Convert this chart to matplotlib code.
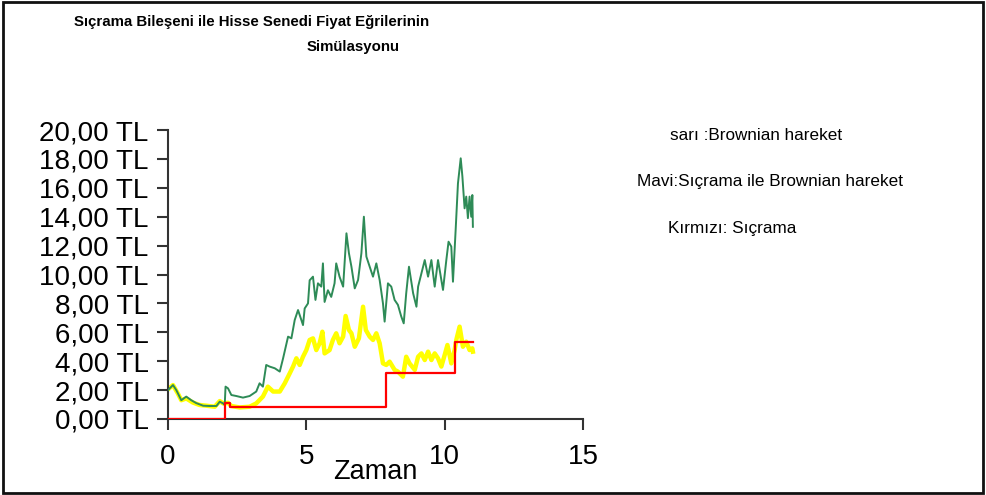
import matplotlib
matplotlib.use("Agg")
import matplotlib.pyplot as plt
from matplotlib.patches import Rectangle
from matplotlib.ticker import FuncFormatter

plt.rcParams['font.family'] = ['Liberation Sans', 'DejaVu Sans']

# Green: "Mavi" - jump + Brownian
green_t = [0.00, 0.18, 0.30, 0.48, 0.66, 0.84, 1.02, 1.27, 1.51, 1.75,
           1.87, 1.99, 2.05, 2.08, 2.17, 2.29, 2.47, 2.71, 2.95, 3.19,
           3.31, 3.43, 3.55, 3.67, 3.86, 4.04, 4.16, 4.34, 4.46, 4.58,
           4.70, 4.82, 4.88, 4.94, 5.06, 5.12, 5.24, 5.33, 5.42, 5.54,
           5.60, 5.66, 5.78, 5.90, 6.02, 6.08, 6.20, 6.33, 6.45, 6.54,
           6.63, 6.75, 6.87, 6.99, 7.08, 7.17, 7.29, 7.41, 7.53, 7.65,
           7.77, 7.83, 7.95, 8.07, 8.19, 8.31, 8.43, 8.52, 8.61, 8.71,
           8.86, 8.98, 9.04, 9.16, 9.28, 9.40, 9.52, 9.64, 9.76, 9.88,
           9.94, 10.06, 10.14, 10.24, 10.30, 10.40, 10.48, 10.58, 10.64, 10.72,
           10.78, 10.84, 10.90, 10.96, 11.00, 11.02]
green_v = [2.00, 2.35, 2.00, 1.30, 1.55, 1.30, 1.10, 0.92, 0.90, 0.90,
           1.20, 1.08, 0.97, 2.24, 2.12, 1.66, 1.59, 1.48, 1.59, 1.90,
           2.47, 2.24, 3.74, 3.63, 3.51, 3.28, 4.20, 5.70, 5.58, 6.85,
           7.54, 6.85, 6.50, 7.65, 8.00, 9.60, 9.85, 8.24, 9.39, 9.16,
           10.77, 8.10, 8.91, 8.45, 9.39, 10.77, 9.85, 9.16, 12.85, 11.47,
           10.54, 9.04, 9.62, 11.47, 14.00, 11.24, 10.54, 9.85, 10.77, 9.62,
           8.00, 6.74, 9.39, 9.16, 8.24, 7.90, 7.10, 6.62, 8.70, 10.54,
           8.70, 7.77, 9.16, 10.08, 11.00, 9.85, 11.00, 9.16, 11.00, 9.62,
           8.93, 11.00, 12.27, 11.93, 9.50, 13.20, 16.30, 18.04, 16.80, 14.58,
           15.39, 13.90, 15.39, 14.00, 15.50, 13.30]

# Yellow: "sarı" - Brownian only
yellow_t = [0.00, 0.18, 0.36, 0.48, 0.66, 0.90, 1.14, 1.39, 1.69, 1.87,
            1.99, 2.17, 2.29, 2.59, 2.95, 3.19, 3.43, 3.61, 3.80, 4.04,
            4.22, 4.40, 4.52, 4.64, 4.76, 4.88, 5.00, 5.12, 5.24, 5.36,
            5.48, 5.58, 5.66, 5.84, 5.96, 6.08, 6.20, 6.33, 6.42, 6.54,
            6.63, 6.75, 6.90, 7.05, 7.15, 7.29, 7.41, 7.53, 7.65, 7.77,
            7.89, 8.01, 8.19, 8.31, 8.49, 8.61, 8.73, 8.92, 9.04, 9.16,
            9.28, 9.40, 9.52, 9.64, 9.76, 9.88, 10.00, 10.10, 10.24, 10.36,
            10.42, 10.54, 10.66, 10.78, 10.90, 11.00, 11.02]
yellow_v = [2.05, 2.35, 1.75, 1.30, 1.42, 1.14, 0.97, 0.92, 0.85, 1.24,
            1.08, 1.12, 0.90, 0.80, 0.85, 1.08, 1.55, 2.24, 1.90, 1.90,
            2.47, 3.16, 3.63, 4.20, 3.74, 4.31, 4.77, 5.47, 5.58, 4.77,
            5.24, 6.04, 4.54, 4.77, 5.47, 5.93, 5.24, 5.70, 7.13, 6.16,
            5.93, 5.00, 5.58, 7.77, 6.16, 5.70, 5.47, 5.93, 5.24, 3.85,
            3.74, 3.97, 3.40, 3.28, 2.93, 4.31, 3.85, 3.40, 4.31, 4.54,
            4.08, 4.66, 4.08, 4.54, 4.20, 3.63, 4.43, 5.12, 3.85, 4.77,
            5.47, 6.39, 5.00, 5.35, 4.77, 4.89, 4.66]

# Red: "Kırmızı" - jump component (step)
red_t = [0.0, 2.05, 2.05, 2.23, 2.23, 7.89, 7.89, 10.39, 10.39, 11.02]
red_v = [0.0, 0.0, 1.13, 1.13, 0.85, 0.85, 3.20, 3.20, 5.35, 5.35]

y_ticks = [0, 2, 4, 6, 8, 10, 12, 14, 16, 18, 20]
x_ticks = [0, 5, 10, 15]

fig = plt.figure(figsize=(9.86, 4.95), dpi=100)
ax = fig.add_axes([168/986, 76/495, 415/986, 289/495])

ax.plot(yellow_t, yellow_v, color='#ffff00', lw=3.2, solid_joinstyle='round', zorder=2)
ax.plot(green_t, green_v, color='#2e8b57', lw=1.4, zorder=3)
ax.plot(red_t, red_v, color='#ff0000', lw=1.6, zorder=4)

ax.set_xlim(0, 15)
ax.set_ylim(0, 20)
ax.set_xticks(x_ticks)
ax.set_yticks(y_ticks)
ax.yaxis.set_major_formatter(FuncFormatter(lambda v, p: f"{v:.2f}".replace('.', ',') + " TL"))

for s in ['top', 'right']:
    ax.spines[s].set_visible(False)
for s in ['left', 'bottom']:
    ax.spines[s].set_color('#333333')
    ax.spines[s].set_linewidth(1.5)
ax.tick_params(axis='both', direction='out', length=8, width=1.5, color='#333333',
               labelsize=20)
ax.tick_params(axis='y', pad=6)
ax.tick_params(axis='x', pad=10)
ax.set_xlabel('Zaman', fontsize=19.5, labelpad=-8)

fig.text(252/986, 1 - 22/495, 'Sıçrama Bileşeni ile Hisse Senedi Fiyat Eğrilerinin',
         ha='center', va='center', fontsize=10.8, fontweight='bold')
fig.text(353/986, 1 - 47/495, 'Simülasyonu', ha='center', va='center',
         fontsize=10.8, fontweight='bold')

fig.text(670/986, 1 - 135/495, 'sarı :Brownian hareket', ha='left', va='center', fontsize=12.3)
fig.text(637/986, 1 - 182/495, 'Mavi:Sıçrama ile Brownian hareket', ha='left', va='center', fontsize=12.3)
fig.text(668/986, 1 - 228/495, 'Kırmızı: Sıçrama', ha='left', va='center', fontsize=12.3)

fig.patches.append(Rectangle((3/986, 2/495), 980/986, 491/495, transform=fig.transFigure,
                             fill=False, edgecolor='#111111', lw=2.0))

fig.savefig('out.png', dpi=100)
